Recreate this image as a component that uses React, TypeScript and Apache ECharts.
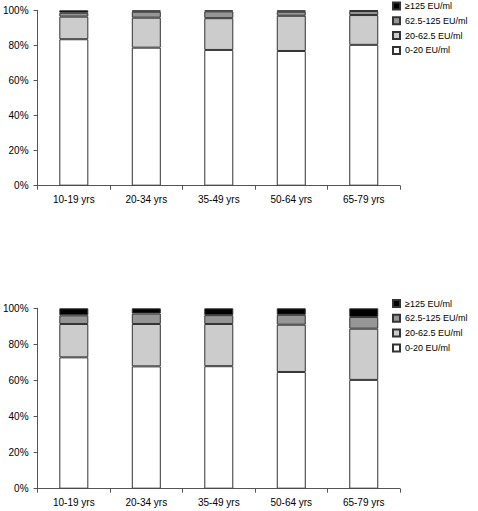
import React, { useEffect, useRef } from "react";
import * as echarts from "echarts";

const categories = ["10-19 yrs", "20-34 yrs", "35-49 yrs", "50-64 yrs", "65-79 yrs"];
const seriesNames = ["0-20 EU/ml", "20-62.5 EU/ml", "62.5-125 EU/ml", "≥125 EU/ml"];
const legendOrder = ["≥125 EU/ml", "62.5-125 EU/ml", "20-62.5 EU/ml", "0-20 EU/ml"];
const seriesColors = ["#ffffff", "#cccccc", "#969696", "#000000"];
const yTicks = [0, 20, 40, 60, 80, 100];

// top panel
const top0to20 = [83.5, 78.7, 77.4, 76.8, 80.3];
const top20to62 = [12.9, 17.1, 18.1, 20.1, 17.0];
const top62to125 = [2.2, 3.4, 3.9, 2.3, 2.3];
const top125 = [1.4, 0.8, 0.6, 0.8, 0.4];

// bottom panel
const bot0to20 = [72.8, 67.8, 67.9, 64.7, 60.3];
const bot20to62 = [18.5, 23.5, 23.4, 26.2, 28.4];
const bot62to125 = [4.8, 5.8, 4.9, 5.5, 6.5];
const bot125 = [3.9, 2.9, 3.8, 3.6, 4.8];

const FONT = "'Liberation Sans', Arial, sans-serif";

export default function App() {
  const ref = useRef<HTMLDivElement>(null);
  useEffect(() => {
    if (!ref.current) return;
    const chart = echarts.init(ref.current, null, { renderer: "svg" });
    const axisColor = "#555";
    const panels = [
      [top0to20, top20to62, top62to125, top125],
      [bot0to20, bot20to62, bot62to125, bot125],
    ];
    const xAxis = [0, 1].map((i) => ({
      type: "category" as const,
      gridIndex: i,
      data: categories,
      axisLine: { lineStyle: { color: axisColor, width: 1 } },
      axisTick: { show: true, length: 4, interval: 0, lineStyle: { color: axisColor } },
      axisLabel: { color: "#000", fontSize: 10, fontFamily: FONT, margin: 9, interval: 0 },
    }));
    const yAxis = [0, 1].map((i) => ({
      type: "value" as const,
      gridIndex: i,
      min: yTicks[0],
      max: yTicks[yTicks.length - 1],
      interval: yTicks[1] - yTicks[0],
      splitLine: { show: false },
      axisLine: { show: true, lineStyle: { color: axisColor, width: 1 } },
      axisTick: { show: true, length: 4, lineStyle: { color: axisColor } },
      axisLabel: {
        color: "#000",
        fontSize: 10,
        fontFamily: FONT,
        margin: 9,
        formatter: "{value}%",
      },
    }));
    const series: any[] = [];
    panels.forEach((panel, pi) => {
      panel.forEach((vals, si) => {
        series.push({
          type: "bar",
          name: seriesNames[si],
          xAxisIndex: pi,
          yAxisIndex: pi,
          stack: "s" + pi,
          data: vals,
          barWidth: "40%",
          itemStyle: {
            color: seriesColors[si],
            borderColor: "#333",
            borderWidth: 1,
          },
        });
      });
    });
    const legendCommon = {
      orient: "vertical" as const,
      left: 392,
      padding: 0,
      itemWidth: 7,
      itemHeight: 7,
      itemGap: 4.8,
      icon: "rect",
      data: legendOrder,
      textStyle: { fontSize: 9, fontFamily: FONT, color: "#000", lineHeight: 10 },
    };
    chart.setOption({
      animation: false,
      backgroundColor: "#fff",
      grid: [
        { left: 34, right: 78, top: 10.3, height: 175.4 },
        { left: 34, right: 78, top: 308.3, height: 180.4 },
      ],
      legend: [
        { ...legendCommon, top: 1 },
        { ...legendCommon, top: 298.5 },
      ],
      xAxis,
      yAxis,
      series,
    });
    return () => chart.dispose();
  }, []);
  return (
    <div
      ref={ref}
      style={{ position: "fixed", left: 0, top: 0, width: 478, height: 511, background: "#fff" }}
    />
  );
}
